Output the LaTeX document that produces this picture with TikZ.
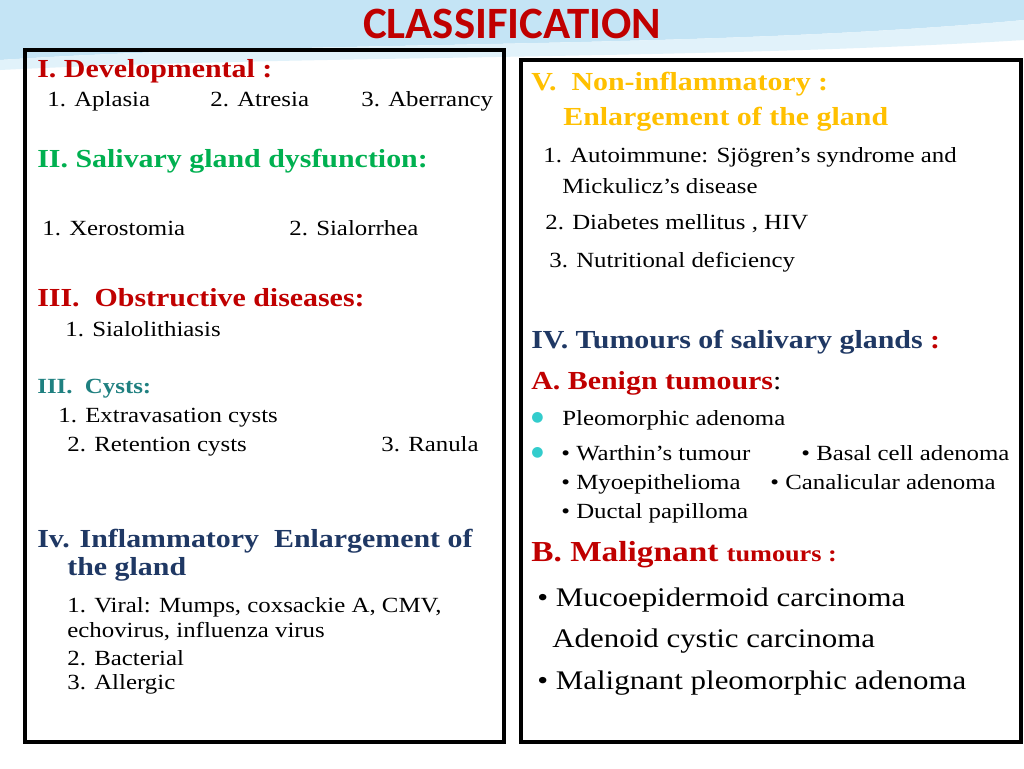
\documentclass[tikz,border=0pt]{standalone}
\usepackage{fontspec}
\setmainfont{Liberation Serif}[FakeStretch=1.15]
\newfontfamily\titlefont{Carlito}
\newfontfamily\symfont{DejaVu Sans}
\usetikzlibrary{positioning}
\definecolor{hdred}{HTML}{C00000}
\definecolor{hdgreen}{HTML}{00B050}
\definecolor{hdteal}{HTML}{1F8080}
\definecolor{hdblue}{HTML}{1F3864}
\definecolor{hdyellow}{HTML}{FFC000}
\definecolor{bulcyan}{HTML}{33CCCC}
\definecolor{skyblue}{HTML}{9CD3EE}
\tikzset{
  txt/.style={anchor=base west, inner sep=0pt, font=\fontsize{12.3}{14}\selectfont},
  head/.style={txt, font=\fontsize{14.8}{17}\selectfont\bfseries},
  big/.style={txt, font=\fontsize{15.3}{17}\selectfont},
  panel/.style={draw=black, line width=2.5pt}
}
\begin{document}
\begin{tikzpicture}[x=0.02cm,y=-0.02cm]
\useasboundingbox (0,0) rectangle (1024,768);
\fill[white] (0,0) rectangle (1024,768);
% top swoosh
\fill[skyblue!60] (0,0) -- (1024,0) -- (1024,20) .. controls (700,50) and (300,40) .. (0,60) -- cycle;
\fill[skyblue!30] (0,60) .. controls (300,40) and (700,50) .. (1024,20) -- (1024,40) .. controls (700,60) and (300,55) .. (0,70) -- cycle;
\node[anchor=base, inner sep=0pt, font=\titlefont\fontsize{25.5}{27}\selectfont\bfseries, text=hdred] (title) at (512,38) {CLASSIFICATION};
\draw[panel] (25,50) rectangle (504,742);
\draw[panel] (521,60) rectangle (1021,742);
% left panel
\node[head, text=hdred] (dev) at (37,77) {I. Developmental :};
\node[txt] (apl) at (47,106) {1. Aplasia};
\node[txt] (atr) at (210,106) {2. Atresia};
\node[txt] (abe) at (361,106) {3. Aberrancy};
\node[head, text=hdgreen] (dys) at (37,167) {II. Salivary gland dysfunction:};
\node[txt] (xer) at (42,235) {1. Xerostomia};
\node[txt] (sia) at (289,235) {2. Sialorrhea};
\node[head, text=hdred] (obs) at (37,306) {III.\ \ Obstructive diseases:};
\node[txt] (lit) at (65,336) {1. Sialolithiasis};
\node[txt, font=\fontsize{12.3}{14}\selectfont\bfseries, text=hdteal] (cys) at (37,393) {III.\ \ Cysts:};
\node[txt] (ext) at (58,422) {1. Extravasation cysts};
\node[txt] (ret) at (67,451) {2. Retention cysts};
\node[txt] (ran) at (381,451) {3. Ranula};
\node[head, text=hdblue] (inf) at (37,547) {Iv. Inflammatory\ \ Enlargement of};
\node[head, text=hdblue] (inf2) at (67,575) {the gland};
\node[txt] (vir) at (67,612) {1. Viral: Mumps, coxsackie A, CMV,};
\node[txt] (vir2) at (67,637) {echovirus, influenza virus};
\node[txt] (bac) at (67,665) {2. Bacterial};
\node[txt] (all) at (67,689) {3. Allergic};
% right panel
\node[head, text=hdyellow] (non) at (531,90) {V.\ \ Non-inflammatory :};
\node[head, text=hdyellow] (non2) at (563,125) {Enlargement of the gland};
\node[txt] (aut) at (543,162) {1. Autoimmune: Sjögren’s syndrome and};
\node[txt] (aut2) at (562,193) {Mickulicz’s disease};
\node[txt] (dia) at (545,229) {2. Diabetes mellitus , HIV};
\node[txt] (nut) at (549,267) {3. Nutritional deficiency};
\node[head, text=hdblue] (tum) at (531,348) {IV. Tumours of salivary glands \textcolor{hdred}{:}};
\node[head, text=hdred] (ben) at (531,389) {A. Benign tumours\textcolor{black}{\mdseries:}};
\node[txt, text=bulcyan, font=\symfont\fontsize{8}{9}\selectfont] (b1) at (531,421) {●};
\node[txt] (ple) at (562,425) {Pleomorphic adenoma};
\node[txt, text=bulcyan, font=\symfont\fontsize{8}{9}\selectfont] (b2) at (531,456) {●};
\node[txt] (war) at (561,460) {• Warthin’s tumour};
\node[txt] (bas) at (801,460) {• Basal cell adenoma};
\node[txt] (myo) at (561,489) {• Myoepithelioma};
\node[txt] (can) at (770,489) {• Canalicular adenoma};
\node[txt] (duc) at (561,518) {• Ductal papilloma};
\node[head, text=hdred, font=\fontsize{16.5}{18}\selectfont\bfseries] (mal) at (531,561) {B. Malignant \fontsize{13}{14}\selectfont tumours :};
\node[big] (muc) at (537,606) {• Mucoepidermoid carcinoma};
\node[big] (ade) at (552,647) {Adenoid cystic carcinoma};
\node[big] (mpa) at (537,689) {• Malignant pleomorphic adenoma};
\end{tikzpicture}
\end{document}
